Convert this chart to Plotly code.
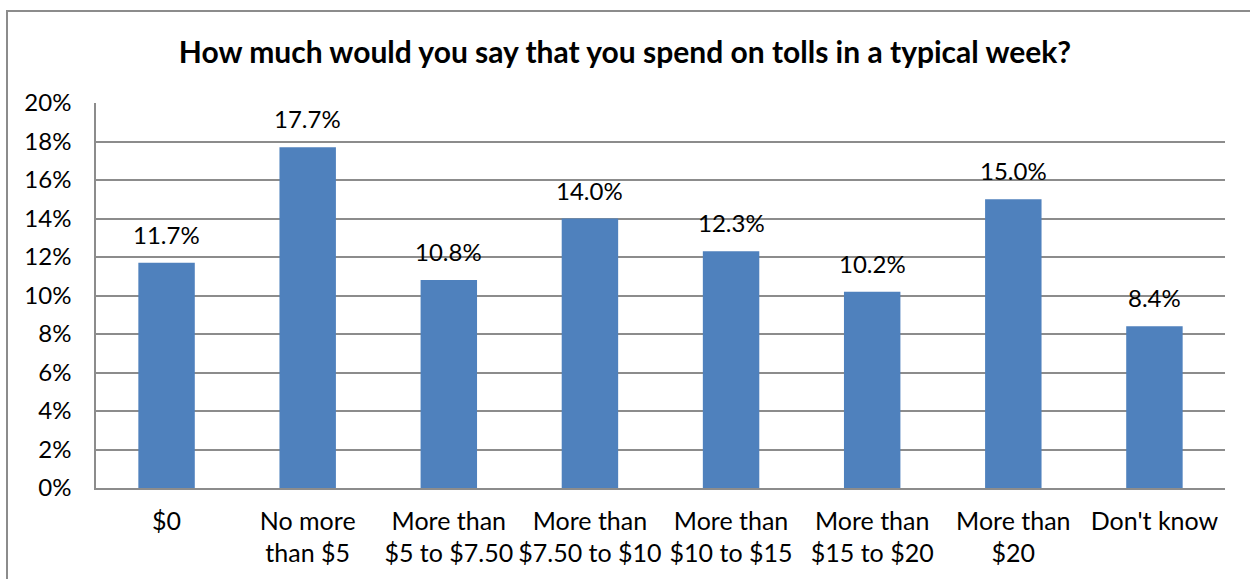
import plotly.graph_objects as go

categories = ["$0", "No more<br>than $5", "More than<br>$5 to $7.50", "More than<br>$7.50 to $10",
              "More than<br>$10 to $15", "More than<br>$15 to $20", "More than<br>$20", "Don't know"]
values = [11.7, 17.7, 10.8, 14.0, 12.3, 10.2, 15.0, 8.4]
labels = [f"{v:.1f}%" for v in values]
y_ticks = [0, 2, 4, 6, 8, 10, 12, 14, 16, 18, 20]

FONT = "Lato, Carlito, Calibri, 'Liberation Sans', sans-serif"
GRID = "#8c8c8c"

fig = go.Figure(go.Bar(
    x=categories, y=values,
    marker=dict(color="#4F81BD", line=dict(width=0)),
    width=0.4,
))

for c, v, t in zip(categories, values, labels):
    fig.add_annotation(x=c, y=v, text=t, showarrow=False, yanchor="bottom", yshift=12,
                       font=dict(size=24, color="#000000", family=FONT))

L, R, T, B = 96, 25, 103, 91
W, H = 1250, 579
pw, ph = W - L - R, H - T - B

fig.update_layout(
    width=W, height=H,
    margin=dict(l=L, r=R, t=T, b=B),
    paper_bgcolor="white", plot_bgcolor="white",
    title=dict(text="<b>How much would you say that you spend on tolls in a typical week?</b>",
               x=0.5, xanchor="center", y=1 - 52 / H, yanchor="middle",
               font=dict(size=30, color="#000000", family=FONT)),
    font=dict(family=FONT, size=24, color="#000000"),
    showlegend=False,
    xaxis=dict(type="category", showline=True, linecolor=GRID, linewidth=1.5,
               ticks="", ticklabelstandoff=10,
               tickfont=dict(size=25, family=FONT, color="#000000"), showgrid=False),
    yaxis=dict(range=[0, 20], tickvals=y_ticks, ticktext=[f"{t}%" for t in y_ticks],
               showline=True, linecolor=GRID, linewidth=1.5, ticks="", ticklabelstandoff=18,
               showgrid=True, gridcolor=GRID, gridwidth=1.5,
               tickfont=dict(size=24, family=FONT, color="#000000"), zeroline=False),
    shapes=[dict(type="rect", xref="paper", yref="paper",
                 x0=(7 - L) / pw, x1=(W + 10 - L) / pw,
                 y0=(H - B - (H + 10)) / ph, y1=(H - B - 11) / ph,
                 line=dict(color="#8c8c8c", width=2), fillcolor="rgba(0,0,0,0)", layer="below")],
)

fig.write_html("out.html", config={"displayModeBar": False},
               post_script="document.body.style.margin='0';document.body.style.overflow='hidden';")
